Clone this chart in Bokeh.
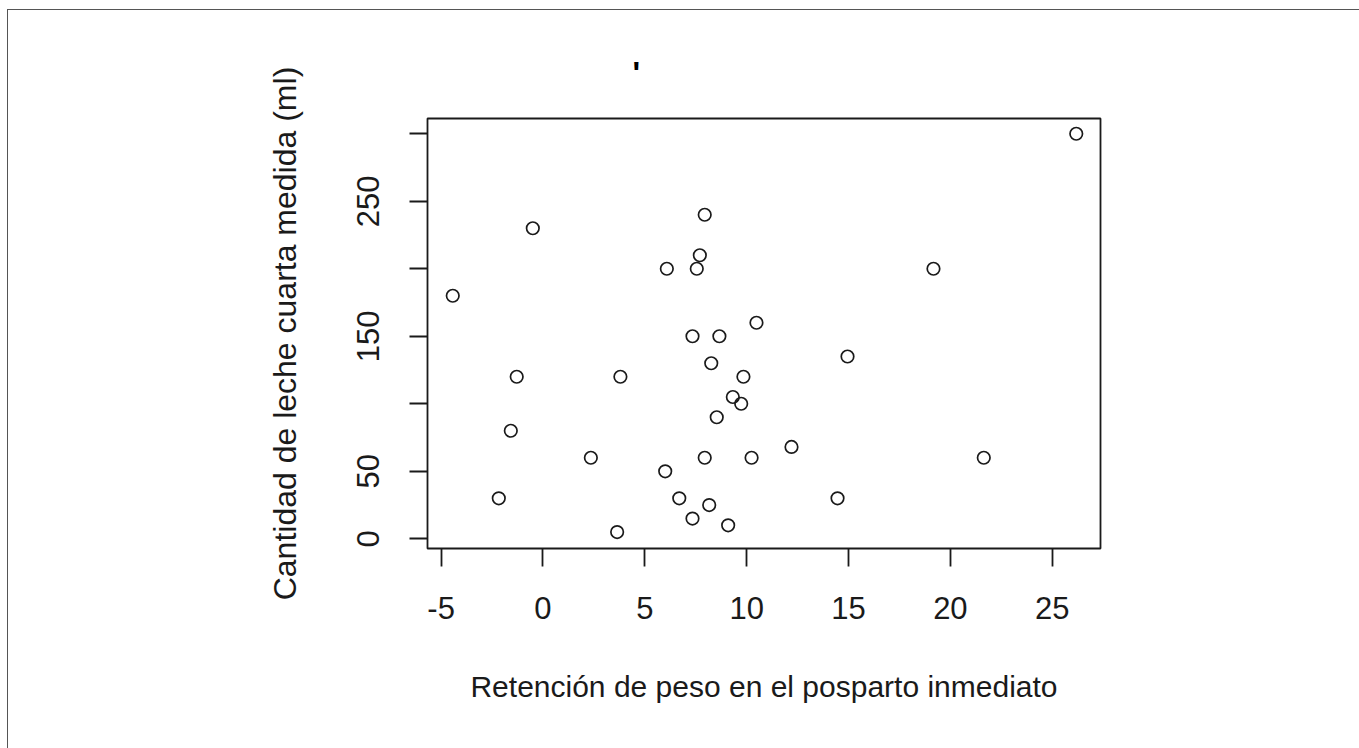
from bokeh.plotting import figure
from bokeh.models import Range1d, FixedTicker
from bokeh.embed import file_html
from bokeh.resources import INLINE

# Data
retencion = [-4.43, -0.50, 7.94, 7.70, 7.55, 6.08, 10.48, 26.18, 19.17, 7.34,
             8.66, 8.26, 9.84, 9.32, 9.73, 8.53, -1.29, 3.80, -1.58, 2.35,
             6.00, 7.94, 10.24, -2.17, 6.69, 8.16, 7.34, 9.09, 3.64, 14.95,
             12.20, 21.64, 14.46]
leche = [180, 230, 240, 210, 200, 200, 160, 300, 200, 150,
         150, 130, 120, 105, 100, 90, 120, 120, 80, 60,
         50, 60, 60, 30, 30, 25, 15, 10, 5, 135,
         68, 60, 30]
x_ticks = [-5, 0, 5, 10, 15, 20, 25]
x_tick_labels = {-5: "-5", 0: "0", 5: "5", 10: "10", 15: "15", 20: "20", 25: "25"}
y_ticks = [0, 50, 100, 150, 200, 250, 300]
y_tick_labels = {0: "0", 50: "50", 100: "", 150: "150", 200: "", 250: "250", 300: ""}

FONT = "Liberation Sans"
INK = "#1a1a1a"

p = figure(output_backend="svg", toolbar_location=None,
           x_range=Range1d(-5.67, 27.37), y_range=Range1d(-7.2, 311.3),
           frame_width=673, frame_height=430,
           min_border_left=419, min_border_top=108, min_border_right=259, min_border_bottom=200,
           title="'")
p.styles = {"margin-left": "7px", "margin-top": "9px",
            "border-left": "1px solid #555", "border-top": "1px solid #555"}

p.title.text_font = FONT
p.title.text_font_size = "32px"
p.title.text_font_style = "bold"
p.title.text_color = "black"
p.title.align = "left"
p.title.offset = 205
p.title.standoff = 56

p.grid.visible = False
p.background_fill_color = "white"
p.border_fill_color = "white"
p.outline_line_color = INK
p.outline_line_width = 1.8

for ax in (p.xaxis[0], p.yaxis[0]):
    ax.axis_line_color = None
    ax.major_tick_out = 18
    ax.major_tick_in = 0
    ax.major_tick_line_color = INK
    ax.major_tick_line_width = 1.8
    ax.minor_tick_line_color = None
    ax.major_label_text_font = FONT
    ax.major_label_text_font_size = "31px"
    ax.major_label_text_color = INK
    ax.axis_label_text_font = FONT
    ax.axis_label_text_font_style = "normal"
    ax.axis_label_text_color = INK

p.xaxis.axis_label_text_font_size = "30px"
p.yaxis.axis_label_text_font_size = "32px"
p.xaxis.ticker = FixedTicker(ticks=x_ticks)
p.xaxis.major_label_overrides = x_tick_labels
p.yaxis.ticker = FixedTicker(ticks=y_ticks)
p.yaxis.major_label_overrides = y_tick_labels
p.yaxis.major_label_orientation = "vertical"
p.xaxis.major_label_standoff = 30
p.yaxis.major_label_standoff = 30
p.xaxis.axis_label = "Retención de peso en el posparto inmediato"
p.yaxis.axis_label = "Cantidad de leche cuarta medida (ml)"
p.xaxis.axis_label_standoff = 48
p.yaxis.axis_label_standoff = 52

p.scatter(retencion, leche, size=12.5, marker="circle", fill_color=None,
          line_color=INK, line_width=1.7)

open("out.html", "w").write(file_html(p, INLINE))
